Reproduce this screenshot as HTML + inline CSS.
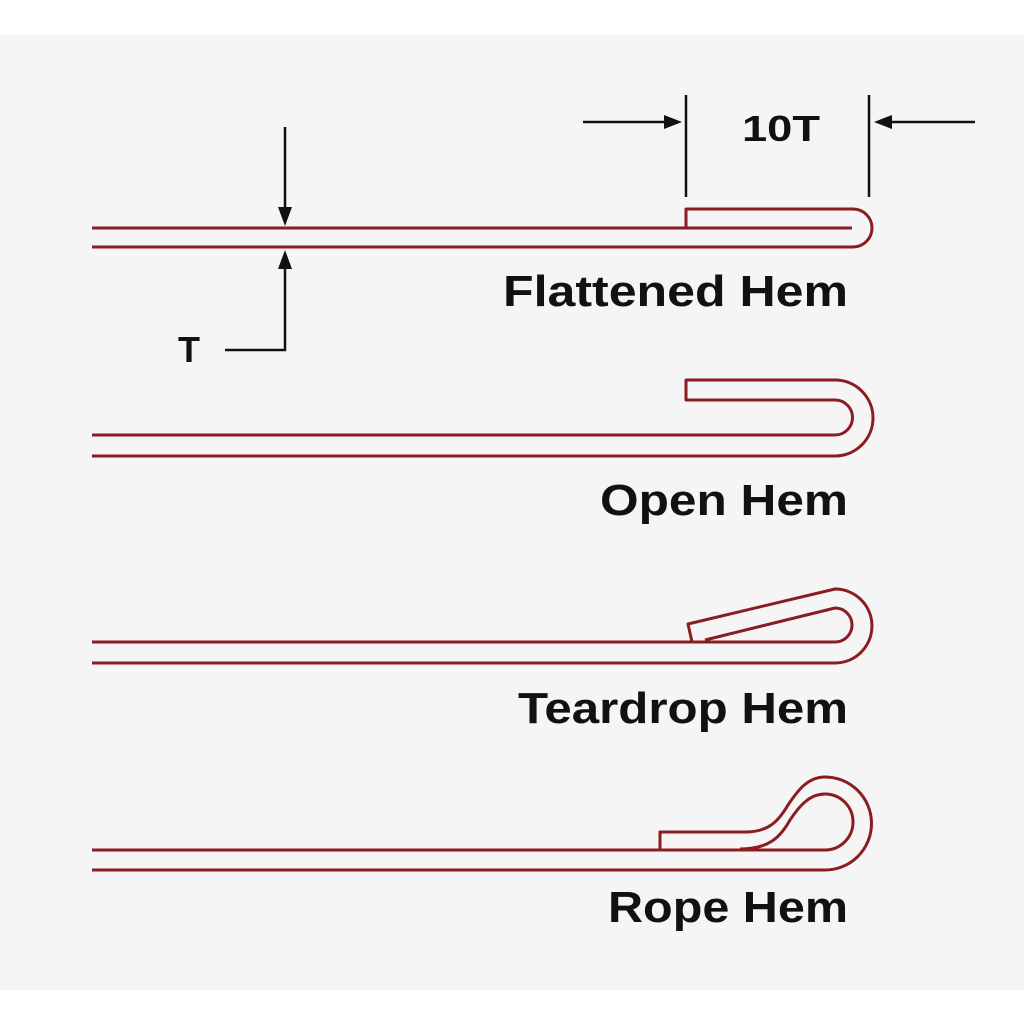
<!DOCTYPE html>
<html><head><style>html,body{margin:0;padding:0;background:#fff}</style></head>
<body>
<svg width="1024" height="1024" viewBox="0 0 1024 1024" xmlns="http://www.w3.org/2000/svg">
<rect x="0" y="35" width="1024" height="955" fill="#f5f5f5"/>
<g fill="none" stroke="#8b1c1f" stroke-width="3" stroke-linejoin="round">
<!-- Flattened -->
<path d="M92 247 H853 A19 19 0 0 0 853 209 H686 V228"/>
<path d="M92 228 H852"/>
<!-- Open -->
<path d="M92 456 H835 A38 38 0 0 0 835 380 H686 V400 H835 A17.5 17.5 0 0 1 835 435 H92"/>
<!-- Teardrop -->
<path d="M92 663 H835 A37 37 0 0 0 835 589 L688 624 L692 642"/>
<path d="M92 642 H835 A17 17 0 0 0 835 608 L705 640"/>
<!-- Rope -->
<path d="M92 870 H825 A46.5 46.5 0 0 0 825 777 C808 777 798 790 788 805 C778 822 768 832 745 832 H660 V849"/>
<path d="M92 850 H825 A28 28 0 0 0 825 794 C810 794 800 805 790 820 C780 838 768 849 740 849"/>
</g>
<g stroke="#111" stroke-width="2.5" fill="none">
<path d="M686 95 V197 M869 95 V197"/>
<path d="M583 122 H670 M975 122 H886"/>
<path d="M285 127 V212 M285 264 V350 H225"/>
</g>
<g fill="#111">
<path d="M682 122 L664 115 L664 129 Z"/>
<path d="M874 122 L892 115 L892 129 Z"/>
<path d="M285 226 L278 207 L292 207 Z"/>
<path d="M285 250 L278 269 L292 269 Z"/>
</g>
<g font-family="Liberation Sans, sans-serif" font-weight="bold" fill="#111" text-anchor="end">
<text x="848" y="306" font-size="44" textLength="345" lengthAdjust="spacingAndGlyphs">Flattened Hem</text>
<text x="848" y="515" font-size="44" textLength="248" lengthAdjust="spacingAndGlyphs">Open Hem</text>
<text x="848" y="723" font-size="44" textLength="330" lengthAdjust="spacingAndGlyphs">Teardrop Hem</text>
<text x="848" y="922" font-size="44" textLength="240" lengthAdjust="spacingAndGlyphs">Rope Hem</text>
<text x="820" y="141" font-size="36" textLength="78" lengthAdjust="spacingAndGlyphs">10T</text>
<text x="200" y="362" font-size="36">T</text>
</g>
</svg>
</body></html>
